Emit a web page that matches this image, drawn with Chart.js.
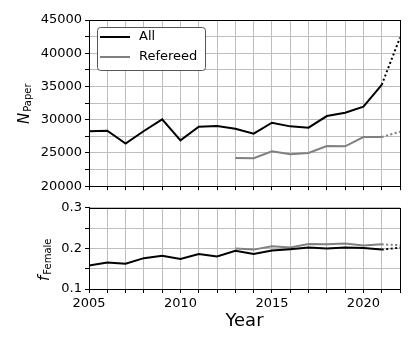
<!DOCTYPE html>
<html>
<head>
<meta charset="utf-8">
<script src="https://cdn.jsdelivr.net/npm/chart.js@4.4.0/dist/chart.umd.min.js"></script>
<style>
  body { margin: 0; background: #fff; }
  #wrap { position: relative; width: 415px; height: 346px; }
  canvas { position: absolute; left: 0; }
  #top { top: 0; }
  #bottom { top: 197px; }
</style>
</head>
<body>
<div id="wrap">
  <canvas id="top" width="415" height="197"></canvas>
  <canvas id="bottom" width="415" height="149"></canvas>
</div>
<script>
const years = [2005, 2006, 2007, 2008, 2009, 2010, 2011, 2012, 2013, 2014, 2015, 2016, 2017, 2018, 2019, 2020, 2021, 2022];
const allPapers = [28250, 28350, 26400, 28300, 30050, 26900, 28950, 29050, 28650, 27900, 29550, 29000, 28800, 30550, 31050, 31950, 35250, 42350];
const refereedPapers = [null, null, null, null, null, null, null, null, 24250, 24200, 25250, 24800, 25000, 26050, 26000, 27400, 27400, 28200];
const allFemale = [0.158, 0.165, 0.162, 0.176, 0.182, 0.174, 0.186, 0.180, 0.194, 0.186, 0.195, 0.198, 0.202, 0.200, 0.202, 0.201, 0.197, 0.202];
const refereedFemale = [null, null, null, null, null, null, null, null, 0.200, 0.197, 0.205, 0.202, 0.211, 0.210, 0.212, 0.207, 0.210, 0.208];
const seriesLabels = ['All', 'Refereed'];
const seriesColors = ['#000000', '#808080'];
const lastFullYear = 2021;

const FONT = '"DejaVu Sans", sans-serif';

function points(values) {
  return years.map((y, i) => ({ x: y, y: values[i] }));
}

function dataset(label, color, values) {
  return {
    label: label,
    data: points(values),
    borderColor: color,
    backgroundColor: color,
    borderWidth: 2,
    pointRadius: 0,
    tension: 0,
    segment: {
      borderDash: ctx => ctx.p1.parsed.x > lastFullYear ? [2, 2.5] : undefined
    }
  };
}

// box around the plot area, like matplotlib spines
const framePlugin = {
  id: 'frame',
  afterDatasetsDraw(chart) {
    const a = chart.chartArea;
    const ctx = chart.ctx;
    ctx.save();
    ctx.strokeStyle = '#000';
    ctx.lineWidth = 1;
    ctx.strokeRect(Math.round(a.left) + 0.5, Math.round(a.top) + 0.5, Math.round(a.right - a.left), Math.round(a.bottom - a.top));
    ctx.restore();
  }
};

// rotated y label with a subscript
function yLabelPlugin(main, sub, baseX, startY) {
  return {
    id: 'ylabel',
    afterDraw(chart) {
      const ctx = chart.ctx;
      ctx.save();
      ctx.translate(baseX, startY);
      ctx.rotate(-Math.PI / 2);
      ctx.fillStyle = '#000';
      ctx.textAlign = 'left';
      ctx.textBaseline = 'alphabetic';
      ctx.font = 'italic 15px ' + FONT;
      ctx.fillText(main, 0, 0);
      const w = ctx.measureText(main).width;
      ctx.font = '10px ' + FONT;
      ctx.fillText(sub, w + 1, 2);
      ctx.restore();
    }
  };
}

const legendPlugin = {
  id: 'boxLegend',
  afterDraw(chart) {
    const ctx = chart.ctx;
    const x = 97, y = 27, w = 108, h = 43, r = 3;
    ctx.save();
    ctx.beginPath();
    ctx.roundRect(x + 0.5, y + 0.5, w, h, r);
    ctx.fillStyle = '#fff';
    ctx.fill();
    ctx.strokeStyle = '#555';
    ctx.lineWidth = 1;
    ctx.stroke();
    ctx.font = '13px ' + FONT;
    ctx.textBaseline = 'middle';
    chart.data.datasets.forEach((ds, i) => {
      const ly = 37 + i * 20;
      ctx.beginPath();
      ctx.moveTo(100, ly);
      ctx.lineTo(130, ly);
      ctx.strokeStyle = ds.borderColor;
      ctx.lineWidth = 2;
      ctx.stroke();
      ctx.fillStyle = '#000';
      ctx.fillText(ds.label, 139, ly);
    });
    ctx.restore();
  }
};

function xScale(showLabels, forcedHeight) {
  return {
    type: 'linear',
    min: 2005,
    max: 2022,
    ticks: {
      stepSize: 1,
      autoSkip: false,
      maxRotation: 0,
      padding: 3,
      color: '#000',
      font: { family: FONT, size: 13 },
      callback: v => (showLabels && v % 5 === 0) ? String(v) : ''
    },
    grid: { color: '#bdbdbd', lineWidth: 1, tickColor: '#000', tickLength: 4 },
    border: { color: '#000', width: 1 },
    title: {
      display: showLabels,
      text: 'Year',
      color: '#000',
      font: { family: FONT, size: 18 },
      padding: { top: 2, bottom: 0 }
    },
    afterFit: s => { s.height = forcedHeight; }
  };
}

function yScale(min, max, step, labelFn) {
  return {
    min: min,
    max: max,
    ticks: {
      stepSize: step,
      autoSkip: false,
      padding: 3,
      color: '#000',
      font: { family: FONT, size: 13 },
      callback: labelFn
    },
    grid: { color: '#bdbdbd', lineWidth: 1, tickColor: '#000', tickLength: 4 },
    border: { color: '#000', width: 1 },
    afterFit: s => { s.width = 89; }
  };
}

new Chart(document.getElementById('top'), {
  type: 'line',
  data: {
    datasets: [
      dataset(seriesLabels[0], seriesColors[0], allPapers),
      dataset(seriesLabels[1], seriesColors[1], refereedPapers)
    ]
  },
  options: {
    responsive: false,
    animation: false,
    devicePixelRatio: 1,
    layout: { padding: { top: 20, right: 15, left: 0, bottom: 0 } },
    plugins: { legend: { display: false }, tooltip: { enabled: false } },
    scales: {
      x: xScale(false, 10),
      y: yScale(20000, 45000, 2500, v => v % 5000 === 0 ? String(v) : '')
    }
  },
  plugins: [framePlugin, legendPlugin, yLabelPlugin('N', 'Paper', 29, 124)]
});

new Chart(document.getElementById('bottom'), {
  type: 'line',
  data: {
    datasets: [
      dataset(seriesLabels[0], seriesColors[0], allFemale),
      dataset(seriesLabels[1], seriesColors[1], refereedFemale)
    ]
  },
  options: {
    responsive: false,
    animation: false,
    devicePixelRatio: 1,
    layout: { padding: { top: 9, right: 15, left: 0, bottom: 14 } },
    plugins: { legend: { display: false }, tooltip: { enabled: false } },
    scales: {
      x: xScale(true, 43),
      y: yScale(0.1, 0.3, 0.05, v => Math.round(v * 100) % 10 === 0 ? v.toFixed(1) : '')
    }
  },
  plugins: [framePlugin, yLabelPlugin('f', 'Female', 49, 84)]
});
</script>
</body>
</html>
